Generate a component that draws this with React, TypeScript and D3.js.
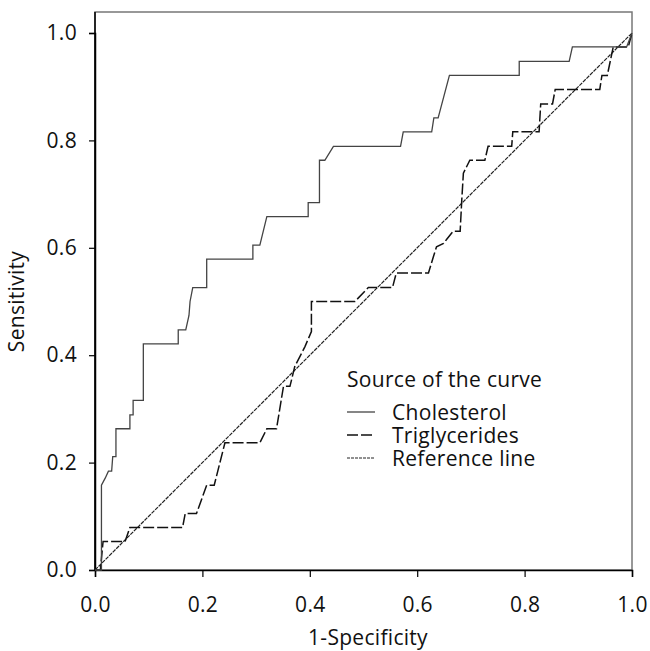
import React, { useEffect, useRef } from "react";
import * as d3 from "d3";

// ROC points, x = 1-Specificity, y = Sensitivity
const cholX = [0, 0.012, 0.012, 0.019, 0.025, 0.031, 0.033, 0.039, 0.039, 0.065, 0.065, 0.071, 0.071, 0.09, 0.09, 0.155, 0.155, 0.169, 0.175, 0.177, 0.182, 0.208, 0.208, 0.294, 0.294, 0.307, 0.32, 0.397, 0.397, 0.418, 0.418, 0.428, 0.444, 0.569, 0.574, 0.627, 0.631, 0.639, 0.66, 0.79, 0.79, 0.883, 0.889, 0.99, 1];
const cholY = [0, 0, 0.158, 0.171, 0.184, 0.184, 0.211, 0.211, 0.263, 0.263, 0.289, 0.289, 0.316, 0.316, 0.421, 0.421, 0.447, 0.447, 0.474, 0.5, 0.526, 0.526, 0.579, 0.579, 0.605, 0.605, 0.658, 0.658, 0.684, 0.684, 0.763, 0.763, 0.789, 0.789, 0.816, 0.816, 0.842, 0.842, 0.921, 0.921, 0.947, 0.947, 0.974, 0.974, 1];

const trigX = [0, 0.01, 0.015, 0.056, 0.065, 0.163, 0.168, 0.189, 0.208, 0.222, 0.242, 0.307, 0.32, 0.338, 0.351, 0.363, 0.366, 0.372, 0.391, 0.403, 0.403, 0.484, 0.509, 0.554, 0.561, 0.621, 0.63, 0.636, 0.649, 0.655, 0.667, 0.68, 0.683, 0.686, 0.698, 0.726, 0.732, 0.776, 0.778, 0.827, 0.83, 0.852, 0.857, 0.94, 0.944, 0.954, 0.965, 0.993, 1];
const trigY = [0, 0, 0.053, 0.053, 0.079, 0.079, 0.105, 0.105, 0.158, 0.158, 0.237, 0.237, 0.263, 0.263, 0.342, 0.342, 0.354, 0.379, 0.416, 0.444, 0.5, 0.5, 0.526, 0.526, 0.553, 0.553, 0.583, 0.602, 0.608, 0.616, 0.631, 0.631, 0.689, 0.739, 0.763, 0.763, 0.789, 0.789, 0.816, 0.816, 0.868, 0.868, 0.895, 0.895, 0.921, 0.921, 0.974, 0.974, 1];

const refX = [0, 1];
const refY = [0, 1];

const tickValues = [0, 0.2, 0.4, 0.6, 0.8, 1.0];
const legendTitle = "Source of the curve";
const legendLabels = ["Cholesterol", "Triglycerides", "Reference line"];

const FONT = "'Open Sans', sans-serif";
const FS = 21;
const LS = "0.3px";

const App = () => {
  const ref = useRef<SVGSVGElement>(null);

  useEffect(() => {
    const svg = d3.select(ref.current);
    svg.selectAll("*").remove();

    const width = 650;
    const height = 651;
    const left = 95, right = 632, top = 33, bottom = 570;

    const x = d3.scaleLinear().domain([0, 1]).range([left, right]);
    const y = d3.scaleLinear().domain([0, 1]).range([bottom, top]);

    // frame (top and right borders)
    svg.append("rect")
      .attr("x", left).attr("y", 12)
      .attr("width", right - left).attr("height", bottom - 12)
      .attr("fill", "none").attr("stroke", "#777").attr("stroke-width", 1.5);

    const xAxis = svg.append("g")
      .attr("transform", `translate(0, ${bottom})`)
      .call(d3.axisBottom(x).tickValues(tickValues).tickFormat(d3.format(".1f")).tickSizeOuter(0).tickSize(7).tickPadding(20));
    const yAxis = svg.append("g")
      .attr("transform", `translate(${left}, 0)`)
      .call(d3.axisLeft(y).tickValues(tickValues).tickFormat(d3.format(".1f")).tickSizeOuter(0).tickSize(6).tickPadding(12));

    [xAxis, yAxis].forEach((ax) => {
      ax.select(".domain").attr("stroke", "#000").attr("stroke-width", 1.5);
      ax.selectAll(".tick line").attr("stroke", "#000").attr("stroke-width", 1.2);
      ax.selectAll("text")
        .attr("font-family", FONT).attr("font-size", FS).attr("fill", "#111")
        .attr("letter-spacing", LS);
    });
    svg.append("line")
      .attr("x1", left).attr("x2", left).attr("y1", 12).attr("y2", bottom)
      .attr("stroke", "#000").attr("stroke-width", 1.5);

    const line = d3.line<[number, number]>().x((d) => x(d[0])).y((d) => y(d[1]));
    const zip = (xs: number[], ys: number[]) => xs.map((v, i) => [v, ys[i]] as [number, number]);

    svg.append("path")
      .attr("d", line(zip(refX, refY)))
      .attr("fill", "none").attr("stroke", "#222").attr("stroke-width", 1.2)
      .attr("stroke-dasharray", "4,1");

    svg.append("path")
      .attr("d", line(zip(trigX, trigY)))
      .attr("fill", "none").attr("stroke", "#111").attr("stroke-width", 1.5)
      .attr("stroke-dasharray", "11,3");

    svg.append("path")
      .attr("d", line(zip(cholX, cholY)))
      .attr("fill", "none").attr("stroke", "#444").attr("stroke-width", 1.3);

    // legend
    const lg = svg.append("g")
      .attr("font-family", FONT).attr("font-size", FS).attr("fill", "#111")
      .attr("letter-spacing", LS);
    lg.append("text").attr("x", 347).attr("y", 387).text(legendTitle);
    const styles = [
      { dash: null, w: 1.3, c: "#444" },
      { dash: "11,3", w: 1.5, c: "#111" },
      { dash: "3,1", w: 1, c: "#222" },
    ];
    legendLabels.forEach((lab, i) => {
      const yy = 412 + i * 23;
      lg.append("line")
        .attr("x1", 347).attr("x2", 375).attr("y1", yy).attr("y2", yy)
        .attr("stroke", styles[i].c).attr("stroke-width", styles[i].w)
        .attr("stroke-dasharray", styles[i].dash);
      lg.append("text").attr("x", 392).attr("y", yy + 8).text(lab);
    });

    // axis titles
    svg.append("text")
      .attr("x", 368).attr("y", 645)
      .attr("text-anchor", "middle")
      .attr("font-family", FONT).attr("font-size", FS).attr("fill", "#111")
      .attr("letter-spacing", LS)
      .text("1-Specificity");
    svg.append("text")
      .attr("transform", `translate(24, ${(top + bottom) / 2}) rotate(-90)`)
      .attr("text-anchor", "middle")
      .attr("font-family", FONT).attr("font-size", FS).attr("fill", "#111")
      .attr("letter-spacing", LS)
      .text("Sensitivity");

    svg.attr("width", width).attr("height", height);
  }, []);

  return (
    <svg
      ref={ref}
      style={{ position: "absolute", left: 0, top: 0, background: "#fff" }}
    ></svg>
  );
};

export default App;
